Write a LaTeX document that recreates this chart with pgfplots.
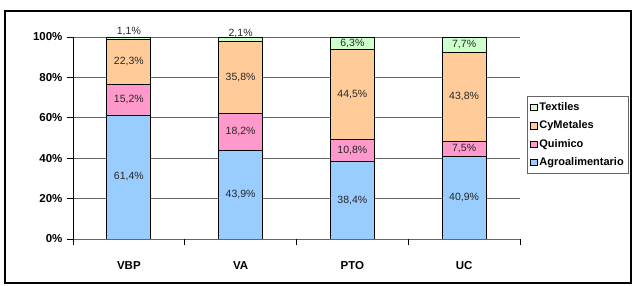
\documentclass[border=0pt]{standalone}
\usepackage{pgfplots}
\usepackage{pgfplotstable}
\usepackage{fontspec}
\setmainfont{Liberation Sans}
\pgfplotsset{compat=1.18}

\definecolor{agro}{HTML}{99CCFF}
\definecolor{quim}{HTML}{FF99CC}
\definecolor{cymet}{HTML}{FFCC99}
\definecolor{textil}{HTML}{CCFFCC}

% Sector shares (%) per indicator
\pgfplotstableread{
x  agro quim cymet textil
0  61.4 15.2 22.3 1.1
1  43.9 18.2 35.8 2.1
2  38.4 10.8 44.5 6.3
3  40.9 7.5  43.8 7.7
}\shares

% label positions: middle of each segment; thin top segments get their label above the bar
\pgfplotstablecreatecol[expr={\thisrow{agro}/2}]{magro}\shares
\pgfplotstablecreatecol[expr={\thisrow{agro}+\thisrow{quim}/2}]{mquim}\shares
\pgfplotstablecreatecol[expr={\thisrow{agro}+\thisrow{quim}+\thisrow{cymet}/2}]{mcymet}\shares
\pgfplotstablecreatecol[expr={\thisrow{agro}+\thisrow{quim}+\thisrow{cymet}+ifthenelse(\thisrow{textil}<3,4,\thisrow{textil}/2)}]{mtextil}\shares

\pgfplotsset{
  base/.style={
    scale only axis, width=447pt, height=202pt,
    xmin=-0.5, xmax=3.5, ymin=0, ymax=100,
    at={(73pt,47pt)}, anchor=south west,
    /pgf/number format/assume math mode=true,
  },
  vallabel/.style={
    draw=none, mark=none, point meta=explicit,
    nodes near coords={\pgfmathprintnumber[fixed,fixed zerofill,precision=1,use comma]{\pgfplotspointmeta}\%},
    every node near coord/.append style={anchor=center, text=black!85, font=\fontsize{10.5}{12}\selectfont},
  },
}

\begin{document}
\begin{tikzpicture}
\path[use as bounding box] (0,0) rectangle (633pt,286pt);
\draw[line width=1.2pt] (5pt,3pt) rectangle (631pt,275pt);

\begin{axis}[base,
  ybar stacked, bar width=44pt,
  axis line style={draw=none},
  tick pos=left, tick align=outside,
  major tick length=6pt, minor tick length=6pt,
  tick style={black, line width=0.8pt},
  xtick={0,1,2,3}, xticklabels={VBP,VA,PTO,UC},
  major x tick style={draw=none},
  minor xtick={-0.5,0.5,1.5,2.5,3.5},
  ytick={0,20,40,60,80,100},
  yticklabel={\pgfmathprintnumber{\tick}\%},
  ymajorgrids, major grid style={black!60, line width=0.8pt},
  xticklabel style={font=\bfseries\fontsize{11.5}{12}\selectfont, yshift=-13pt},
  yticklabel style={font=\bfseries\fontsize{11.5}{12}\selectfont, xshift=-1pt},
  every axis plot/.append style={draw=black, line width=0.8pt},
  reverse legend,
  legend style={at={(1.0157,0.708)}, anchor=north west, draw=black!60, line width=0.8pt,
    font=\bfseries\fontsize{11}{13}\selectfont, row sep=5pt,
    inner xsep=3pt, inner ysep=4pt, cells={anchor=west}},
  legend image code/.code={\draw[#1, draw=black, line width=0.5pt] (0pt,-3.2pt) rectangle (6.5pt,3.2pt);},
]
\addplot[fill=agro]   table[x=x, y=agro]   {\shares};
\addplot[fill=quim]   table[x=x, y=quim]   {\shares};
\addplot[fill=cymet]  table[x=x, y=cymet]  {\shares};
\addplot[fill=textil] table[x=x, y=textil] {\shares};
\legend{Agroalimentario, Quimico, CyMetales, Textiles}
\draw[black!60, line width=0.8pt] (rel axis cs:1,0) -- (rel axis cs:1,1);
\draw[black, line width=0.8pt] (rel axis cs:0,1) -- (rel axis cs:0,0) -- (rel axis cs:1,0);
\end{axis}

\begin{axis}[base, hide axis, clip=false]
\addplot[vallabel] table[x=x, y=magro,   meta=agro]   {\shares};
\addplot[vallabel] table[x=x, y=mquim,   meta=quim]   {\shares};
\addplot[vallabel] table[x=x, y=mcymet,  meta=cymet]  {\shares};
\addplot[vallabel] table[x=x, y=mtextil, meta=textil] {\shares};
\end{axis}
\end{tikzpicture}
\end{document}
